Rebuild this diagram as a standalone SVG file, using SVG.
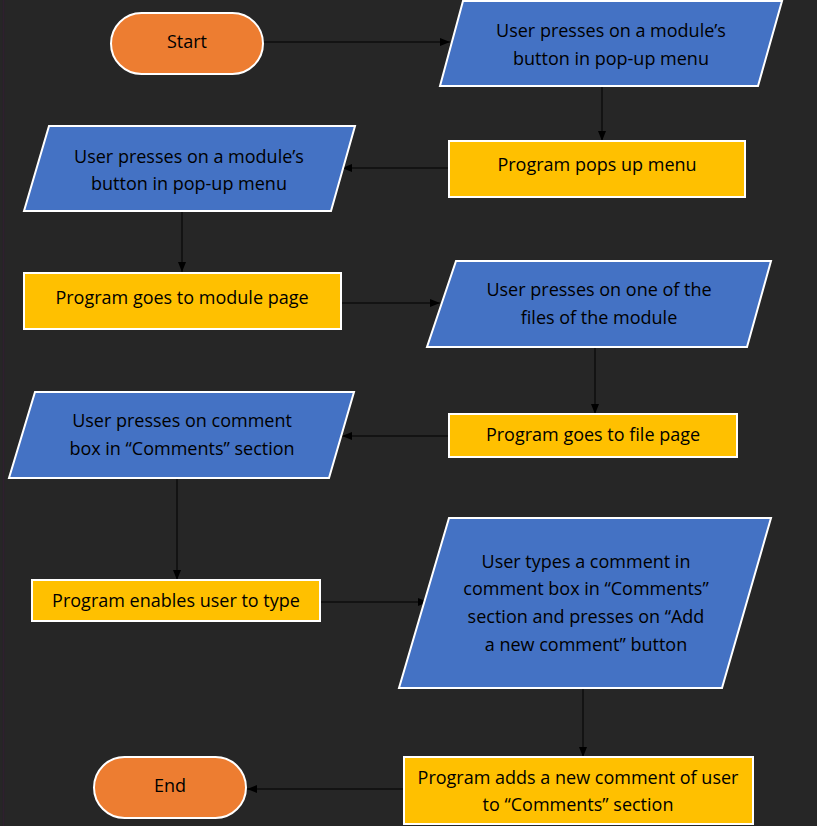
<svg xmlns="http://www.w3.org/2000/svg" width="817" height="826" viewBox="0 0 817 826">
<defs>
<marker id="ah" viewBox="0 0 10 10" refX="10" refY="5" markerWidth="10" markerHeight="10" markerUnits="userSpaceOnUse" orient="auto">
<path d="M0,1 L10,5 L0,9 z" fill="#000"/>
</marker>
<style>
.term{fill:#ED7D31;stroke:#fff;stroke-width:2}
.io{fill:#4472C4;stroke:#fff;stroke-width:2}
.proc{fill:#FFC000;stroke:#fff;stroke-width:2}
text{font-family:"Comic Sans MS","Open Sans","DejaVu Sans",sans-serif;font-size:18px;fill:#000;text-anchor:middle}
.c line{stroke:#000;stroke-width:1;marker-end:url(#ah)}
</style>
</defs>
<rect x="0" y="0" width="817" height="826" fill="#262626"/>
<line x1="3.5" y1="0" x2="3.5" y2="826" stroke="#2f1f2f" stroke-width="1.5"/>
<g class="c" id="connectors">
<line x1="263" y1="42" x2="450" y2="42"/>
<line x1="602" y1="86" x2="602" y2="141"/>
<line x1="449" y1="168" x2="342" y2="168"/>
<line x1="182" y1="211" x2="182" y2="272"/>
<line x1="341" y1="303" x2="440" y2="303"/>
<line x1="595" y1="347" x2="595" y2="414"/>
<line x1="449" y1="436" x2="342" y2="436"/>
<line x1="177" y1="478" x2="177" y2="580"/>
<line x1="320" y1="602" x2="428" y2="602"/>
<line x1="583" y1="688" x2="583" y2="757"/>
<line x1="404" y1="789" x2="247" y2="789"/>
</g>
<g id="start"><rect class="term" x="111" y="13" width="152" height="61" rx="30.5"/><text x="187" y="48">Start</text></g>
<g id="p1"><polygon class="io" points="463,1 782,1 758,86 440,86"/><text x="611" y="37">User presses on a module’s</text><text x="611" y="65">button in pop-up menu</text></g>
<g id="r1"><rect class="proc" x="449" y="141" width="296" height="56"/><text x="597" y="171">Program pops up menu</text></g>
<g id="p2"><polygon class="io" points="49,126 355,126 331,211 24,211"/><text x="189" y="163">User presses on a module’s</text><text x="189" y="190">button in pop-up menu</text></g>
<g id="r2"><rect class="proc" x="24" y="273" width="317" height="56"/><text x="182" y="304">Program goes to module page</text></g>
<g id="p3"><polygon class="io" points="456,261 771,261 747,347 427,347"/><text x="599" y="296">User presses on one of the</text><text x="599" y="324">files of the module</text></g>
<g id="r3"><rect class="proc" x="449" y="414" width="288" height="43"/><text x="593" y="441">Program goes to file page</text></g>
<g id="p4"><polygon class="io" points="35,392 354,392 329,478 9,478"/><text x="182" y="427">User presses on comment</text><text x="182" y="455">box in “Comments” section</text></g>
<g id="r4"><rect class="proc" x="32" y="580" width="288" height="41"/><text x="176" y="607">Program enables user to type</text></g>
<g id="p5"><polygon class="io" points="449,518 771,518 722,688 399,688"/><text x="586" y="568">User types a comment in</text><text x="586" y="595">comment box in “Comments”</text><text x="586" y="623">section and presses on “Add</text><text x="586" y="651">a new comment” button</text></g>
<g id="r5"><rect class="proc" x="404" y="757" width="349" height="67"/><text x="578" y="784">Program adds a new comment of user</text><text x="578" y="811">to “Comments” section</text></g>
<g id="end"><rect class="term" x="94" y="757" width="152" height="61" rx="30.5"/><text x="170" y="792">End</text></g>
</svg>
